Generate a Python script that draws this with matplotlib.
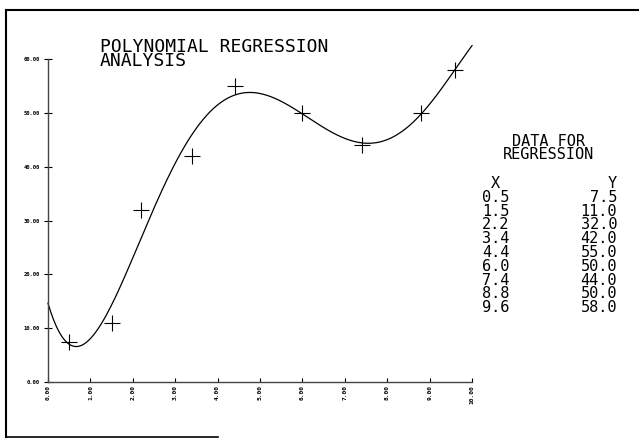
import numpy as np
import matplotlib
matplotlib.use("Agg")
import matplotlib.pyplot as plt
from matplotlib.lines import Line2D

x_data = [0.5, 1.5, 2.2, 3.4, 4.4, 6.0, 7.4, 8.8, 9.6]
y_data = [7.5, 11.0, 32.0, 42.0, 55.0, 50.0, 44.0, 50.0, 58.0]
x_labels = ["0.5", "1.5", "2.2", "3.4", "4.4", "6.0", "7.4", "8.8", "9.6"]
y_labels = ["7.5", "11.0", "32.0", "42.0", "55.0", "50.0", "44.0", "50.0", "58.0"]
x_ticks = [0, 1, 2, 3, 4, 5, 6, 7, 8, 9, 10]
y_ticks = [0, 10, 20, 30, 40, 50, 60]

# regression curve from the data (5th order)
coef = np.polyfit(x_data, y_data, 5)
xs = np.linspace(0, 10, 300)
ys = np.polyval(coef, xs)

fig = plt.figure(figsize=(6.39, 4.43), dpi=100)
ax = fig.add_axes([0.0751, 0.1377, 0.6636, 0.7291])

ax.plot(xs, ys, color="black", lw=0.9, clip_on=False)
ax.plot(x_data, y_data, "k+", ms=11, mew=0.8, clip_on=False)

ax.set_xlim(0, 10)
ax.set_ylim(0, 60)
for s in ["top", "right"]:
    ax.spines[s].set_visible(False)
for s in ["left", "bottom"]:
    ax.spines[s].set_color("#444444")
    ax.spines[s].set_linewidth(1.0)

mono = "DejaVu Sans Mono"
ax.set_xticks(x_ticks)
ax.set_xticklabels(["%.2f" % t for t in x_ticks], rotation=90, fontsize=4.5,
                   fontweight="bold", family=mono)
ax.set_yticks(y_ticks)
ax.set_yticklabels(["%.2f" % t for t in y_ticks], fontsize=4,
                   fontweight="bold", family=mono)
ax.tick_params(axis="x", direction="in", length=3, width=0.8, pad=2)
ax.tick_params(axis="y", direction="inout", length=6, width=0.8, pad=3)

fig.text(100 / 639, 1 - 38 / 443, "POLYNOMIAL REGRESSION\nANALYSIS", family=mono,
         fontsize=13, va="top", ha="left", linespacing=0.72)

# data table on the right
fs = 11
fig.text(548 / 639, 1 - 134 / 443, "DATA FOR\nREGRESSION", family=mono, fontsize=fs,
         va="top", ha="center", multialignment="center", linespacing=0.85)
fig.text(482 / 639, 1 - 176 / 443, "\n".join(["X"] + x_labels), family=mono, fontsize=fs,
         va="top", ha="left", multialignment="center", linespacing=0.9)
fig.text(617 / 639, 1 - 176 / 443, "\n".join(["Y"] + y_labels), family=mono, fontsize=fs,
         va="top", ha="right", multialignment="right", linespacing=0.9)

# page frame
fig.add_artist(Line2D([6 / 639, 1.0], [1 - 10 / 443, 1 - 10 / 443], color="black", lw=1.5,
                      transform=fig.transFigure))
fig.add_artist(Line2D([6 / 639, 6 / 639], [1 - 10 / 443, 1 - 437 / 443], color="black", lw=1.5,
                      transform=fig.transFigure))
fig.add_artist(Line2D([6 / 639, 218 / 639], [1 - 437 / 443, 1 - 437 / 443], color="black", lw=1.2,
                      transform=fig.transFigure))

fig.savefig("out.png", dpi=100)
